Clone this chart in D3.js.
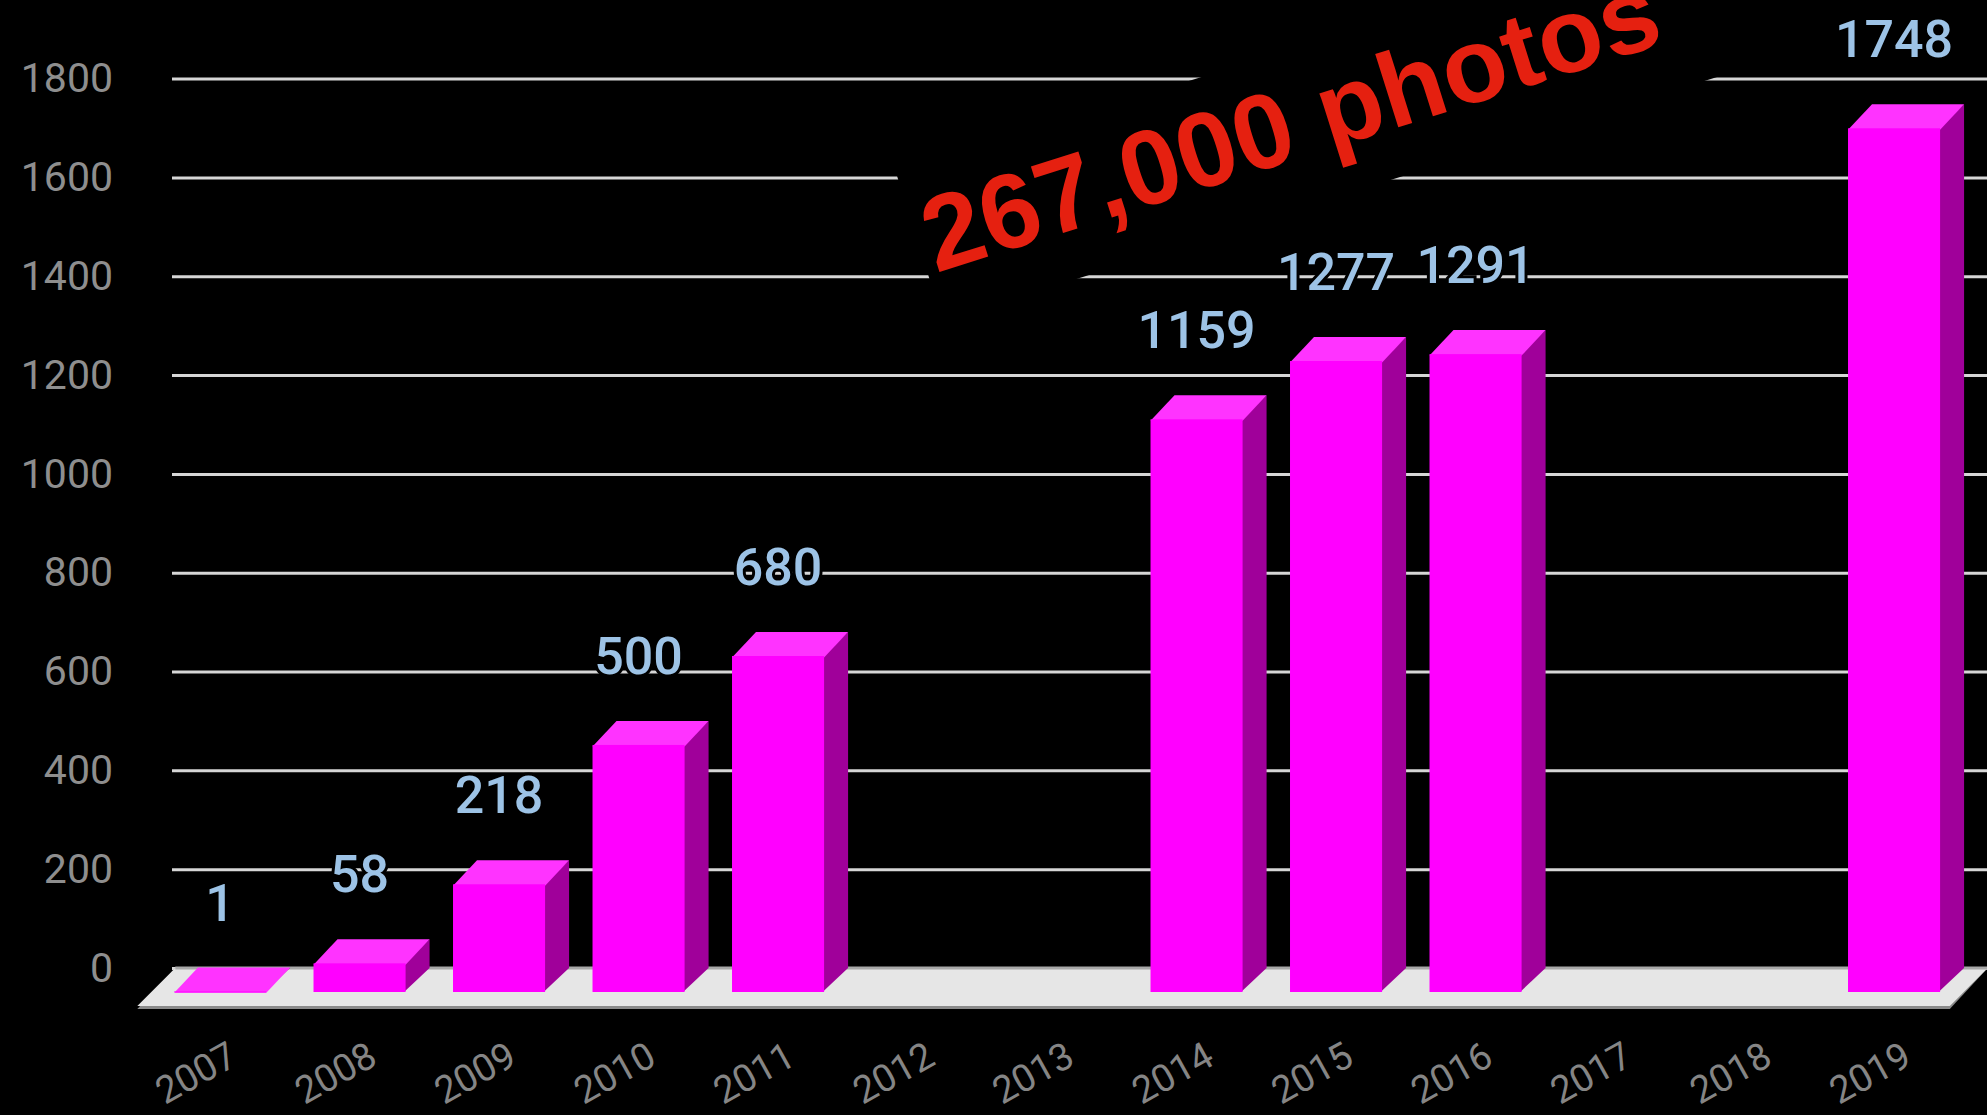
<!DOCTYPE html>
<html>
<head>
<meta charset="utf-8">
<script src="https://cdn.jsdelivr.net/npm/d3@7"></script>
<style>
  html, body { margin: 0; padding: 0; background: #000; }
  svg { display: block; }
</style>
</head>
<body>
<svg id="chart" width="1987" height="1115"></svg>
<script>
// ---- data ----
const years = ["2007","2008","2009","2010","2011","2012","2013","2014","2015","2016","2017","2018","2019"];
const values = [1, 58, 218, 500, 680, null, null, 1159, 1277, 1291, null, null, 1748];
const yTicks = [0, 200, 400, 600, 800, 1000, 1200, 1400, 1600, 1800];
const annotation = "267,000 photos";

// ---- layout ----
const W = 1987, H = 1115;
const svg = d3.select("#chart");
svg.append("rect").attr("width", W).attr("height", H).attr("fill", "#000");

const y = d3.scaleLinear().domain([0, 1800]).range([968, 78.6]);
const x = d3.scaleBand().domain(years).range([150.3, 1963.8]).paddingInner(0.34).paddingOuter(0.17);
const depth = 24;
const gridLeft = 172;

// gridlines + y labels
const yAxis = d3.axisLeft(y).tickValues(yTicks).tickFormat(d3.format("d"))
  .tickSize(-(W - gridLeft)).tickPadding(59);
const gy = svg.append("g").attr("transform", `translate(${gridLeft},0)`).call(yAxis);
gy.select(".domain").remove();
gy.selectAll(".tick line").attr("stroke", "#d6d6d6").attr("stroke-width", 3);
gy.selectAll(".tick text")
  .attr("fill", "#8e8e8e")
  .style("font-family", "Roboto, 'Noto Sans', sans-serif")
  .style("font-size", "41px");

// annotation (rotated, black box cutting gridlines)
const ann = svg.append("g").attr("transform", "translate(936,273) rotate(-17.5)");
ann.append("rect").attr("x", -8).attr("y", -107).attr("width", 850).attr("height", 155).attr("fill", "#000");
ann.append("text")
  .attr("x", 0).attr("y", 0)
  .attr("fill", "#e52010")
  .style("font-family", "'Liberation Sans', Arial, sans-serif")
  .style("font-weight", "bold")
  .style("font-size", "106px")
  .text(annotation);

// floor
const y0 = y(0);
const floorDepth = 38;
const fl = x.range()[0] + 25, fr = x.range()[1] + 24;
svg.append("polygon")
  .attr("points", [[fl, y0], [fr, y0], [fr - floorDepth, y0 + floorDepth + 3], [fl - floorDepth, y0 + floorDepth + 3]].map(p => p.join(",")).join(" "))
  .attr("fill", "#8a8a8a");
svg.append("polygon")
  .attr("points", [[fl, y0], [fr, y0], [fr - floorDepth, y0 + floorDepth], [fl - floorDepth, y0 + floorDepth]].map(p => p.join(",")).join(" "))
  .attr("fill", "#e6e6e6");
svg.append("line").attr("x1", fl).attr("x2", fr).attr("y1", y0).attr("y2", y0)
  .attr("stroke", "#a8a8a8").attr("stroke-width", 3);

// bars
const data = years.map((yr, i) => ({ year: yr, value: values[i] })).filter(d => d.value != null);
const bw = x.bandwidth();
const bars = svg.append("g").selectAll("g").data(data).join("g");
const base = y0 + depth;
bars.append("polygon") // side
  .attr("points", d => {
    const xb = x(d.year) - 1.5, yf = y(d.value) + depth;
    return [[xb + bw, yf], [xb + bw + depth + 1.5, yf - depth], [xb + bw + depth + 1.5, base - depth], [xb + bw, base]].map(p => p.join(",")).join(" ");
  })
  .attr("fill", "#a0009a");
bars.append("polygon") // top
  .attr("points", d => {
    const xb = x(d.year), yf = y(d.value) + depth + 1.5;
    return [[xb, yf], [xb + bw, yf], [xb + bw + depth, yf - depth - 1.5], [xb + depth, yf - depth - 1.5]].map(p => p.join(",")).join(" ");
  })
  .attr("fill", "#ff33ff");
bars.append("rect") // front
  .attr("x", d => x(d.year))
  .attr("y", d => y(d.value) + depth)
  .attr("width", bw)
  .attr("height", d => y(0) - y(d.value))
  .attr("fill", "#ff00ff");

// value labels
svg.append("g").selectAll("text").data(data).join("text")
  .attr("x", d => x(d.year) + bw / 2)
  .attr("y", d => y(d.value) - 47)
  .attr("text-anchor", "middle")
  .attr("fill", "#9dc3e6")
  .attr("stroke", "#000")
  .attr("stroke-width", 6)
  .attr("paint-order", "stroke")
  .style("font-family", "Roboto, 'Noto Sans', sans-serif")
  .style("font-weight", "500")
  .style("font-size", "52px")
  .text(d => d.value);

// x labels
svg.append("g").selectAll("text").data(years).join("text")
  .attr("transform", d => `translate(${x(d) + bw / 2 - 24},1073) rotate(-29)`)
  .attr("text-anchor", "middle")
  .attr("dominant-baseline", "central")
  .attr("fill", "#858585")
  .style("font-family", "Roboto, 'Noto Sans', sans-serif")
  .style("font-size", "38px")
  .text(d => d);
</script>
</body>
</html>
